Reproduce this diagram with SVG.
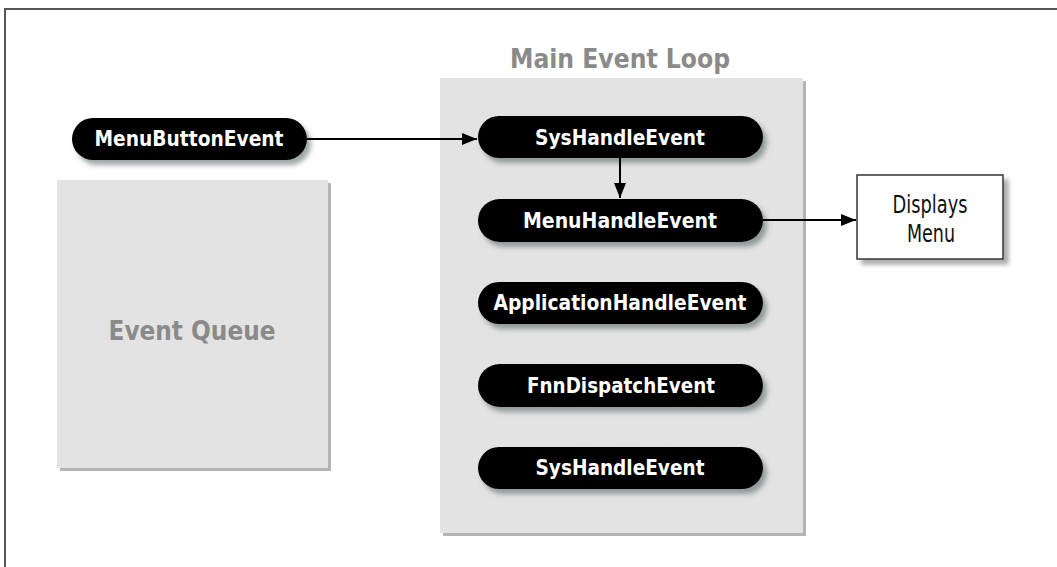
<svg xmlns="http://www.w3.org/2000/svg" width="1057" height="567" viewBox="0 0 1057 567">
<style>
.pill{fill:#000;filter:url(#ps)}
.pt{font-family:"DejaVu Sans Condensed","DejaVu Sans",sans-serif;font-weight:bold;font-size:20.5px;fill:#fff;text-anchor:middle}
.gt{font-family:"DejaVu Sans Condensed","DejaVu Sans",sans-serif;font-weight:bold;font-size:26px;fill:#8a8a8a;text-anchor:middle}
.bt{font-family:"DejaVu Sans Condensed","DejaVu Sans",sans-serif;font-size:24px;fill:#111;text-anchor:middle}
.gray{fill:#e3e3e3}
.gsh{fill:#b4b4b4}
.con{stroke:#000;stroke-width:2;fill:none;marker-end:url(#ah)}
</style>
<defs>
<filter id="ps" x="-10%" y="-30%" width="125%" height="180%">
<feDropShadow dx="4" dy="5" stdDeviation="2.5" flood-color="#4f6060" flood-opacity="0.55"/>
</filter>
<filter id="bs" x="-10%" y="-10%" width="130%" height="140%">
<feDropShadow dx="5" dy="5" stdDeviation="2" flood-color="#777" flood-opacity="0.6"/>
</filter>
<marker id="ah" viewBox="0 0 15 12" refX="15" refY="6" markerWidth="15" markerHeight="12" markerUnits="userSpaceOnUse" orient="auto">
<path d="M0,0 L15,6 L0,12 Z" fill="#000"/>
</marker>
</defs>
<rect width="1057" height="567" fill="#fff"/>
<path d="M5,567 V9 H1057" stroke="#555" stroke-width="2" fill="none"/>

<g id="event-queue">
<rect class="gsh" x="60" y="183" width="271" height="288"/>
<rect class="gray" x="57" y="180" width="271" height="288"/>
<text class="gt" x="192" y="340" textLength="167" lengthAdjust="spacingAndGlyphs">Event Queue</text>
</g>

<g id="main-event-loop">
<rect class="gsh" x="443" y="81" width="363" height="455"/>
<rect class="gray" x="440" y="78" width="363" height="455"/>
<text class="gt" x="620" y="68" textLength="220" lengthAdjust="spacingAndGlyphs">Main Event Loop</text>
</g>

<g id="menu-button-event">
<rect class="pill" x="72" y="118" width="235" height="42" rx="21"/>
<text class="pt" x="189" y="146" textLength="189" lengthAdjust="spacingAndGlyphs">MenuButtonEvent</text>
</g>

<g id="sys-handle-event-1">
<rect class="pill" x="478" y="116" width="285" height="42" rx="21"/>
<text class="pt" x="620" y="145" textLength="170" lengthAdjust="spacingAndGlyphs">SysHandleEvent</text>
</g>

<g id="menu-handle-event">
<rect class="pill" x="478" y="199" width="285" height="43" rx="21.5"/>
<text class="pt" x="620" y="228" textLength="194" lengthAdjust="spacingAndGlyphs">MenuHandleEvent</text>
</g>

<g id="application-handle-event">
<rect class="pill" x="478" y="282" width="285" height="42" rx="21"/>
<text class="pt" x="620" y="310" textLength="253" lengthAdjust="spacingAndGlyphs">ApplicationHandleEvent</text>
</g>

<g id="fnn-dispatch-event">
<rect class="pill" x="478" y="364" width="285" height="43" rx="21.5"/>
<text class="pt" x="621" y="393" textLength="188" lengthAdjust="spacingAndGlyphs">FnnDispatchEvent</text>
</g>

<g id="sys-handle-event-2">
<rect class="pill" x="478" y="447" width="285" height="42" rx="21"/>
<text class="pt" x="620" y="475" textLength="169" lengthAdjust="spacingAndGlyphs">SysHandleEvent</text>
</g>

<g id="displays-menu">
<rect x="857" y="175" width="146" height="84" fill="#fff" stroke="#333" stroke-width="1.5" filter="url(#bs)"/>
<text class="bt" x="930" y="213" textLength="75" lengthAdjust="spacingAndGlyphs">Displays</text>
<text class="bt" x="931" y="242" textLength="48" lengthAdjust="spacingAndGlyphs">Menu</text>
</g>

<g id="connectors">
<path class="con" d="M307,139 H477"/>
<path class="con" d="M620,158 V198"/>
<path class="con" d="M763,220 H856"/>
</g>
</svg>
